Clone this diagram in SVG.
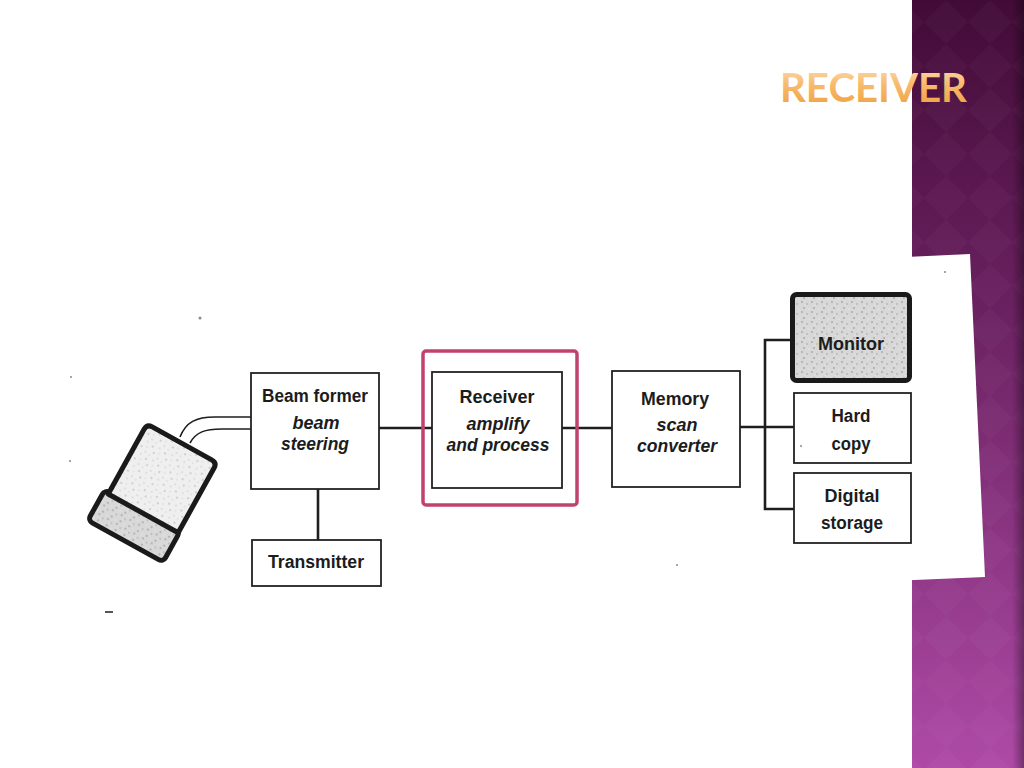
<svg xmlns="http://www.w3.org/2000/svg" width="1024" height="768" viewBox="0 0 1024 768">
<defs>
  <linearGradient id="side" x1="0" y1="0" x2="0" y2="1">
    <stop offset="0" stop-color="#420b37"/>
    <stop offset="0.4" stop-color="#6a2160"/>
    <stop offset="1" stop-color="#ae4aa6"/>
  </linearGradient>
  <linearGradient id="edge" x1="0" y1="0" x2="1" y2="0">
    <stop offset="0" stop-color="#000" stop-opacity="0"/>
    <stop offset="1" stop-color="#000" stop-opacity="0.35"/>
  </linearGradient>
  <linearGradient id="title" x1="0" y1="0" x2="0" y2="1">
    <stop offset="0" stop-color="#fde2c0"/>
    <stop offset="0.45" stop-color="#f7bb6e"/>
    <stop offset="1" stop-color="#ee9e38"/>
  </linearGradient>
  <pattern id="diam" width="44" height="44" patternUnits="userSpaceOnUse">
    <path d="M22,0 L44,22 L22,44 L0,22 Z" fill="#ffffff" fill-opacity="0.025"/>
  </pattern>
  <pattern id="stip" width="14" height="14" patternUnits="userSpaceOnUse">
    <rect width="14" height="14" fill="#efefef"/>
    <circle cx="2" cy="3" r="0.7" fill="#9a9a9a"/>
    <circle cx="9" cy="1" r="0.6" fill="#aaaaaa"/>
    <circle cx="6" cy="8" r="0.7" fill="#999999"/>
    <circle cx="12" cy="11" r="0.6" fill="#a5a5a5"/>
    <circle cx="3" cy="12" r="0.5" fill="#b0b0b0"/>
    <circle cx="11" cy="6" r="0.5" fill="#b5b5b5"/>
  </pattern>
  <pattern id="stip2" width="10" height="10" patternUnits="userSpaceOnUse">
    <rect width="10" height="10" fill="#d8d8d8"/>
    <circle cx="2" cy="2" r="0.8" fill="#8a8a8a"/>
    <circle cx="7" cy="4" r="0.7" fill="#999"/>
    <circle cx="4" cy="8" r="0.8" fill="#888"/>
    <circle cx="9" cy="9" r="0.6" fill="#f2f2f2"/>
    <circle cx="5" cy="5" r="0.6" fill="#f0f0f0"/>
  </pattern>
</defs>
<style>
  .box { fill: #ffffff; stroke: #222222; stroke-width: 1.8; }
  .wire { fill: none; stroke: #1e1e1e; stroke-width: 2.6; }
  .cable { fill: none; stroke: #1e1e1e; stroke-width: 1.6; }
  .lb { font-family: "Liberation Sans", Arial, sans-serif; font-weight: bold; font-size: 18px; fill: #1c1c1c; text-anchor: middle; }
  .li { font-family: "Liberation Sans", Arial, sans-serif; font-weight: bold; font-style: italic; font-size: 18px; fill: #1c1c1c; text-anchor: middle; }
</style>

<rect width="1024" height="768" fill="#ffffff"/>
<g id="sidebar">
  <rect x="912" y="0" width="112" height="768" fill="url(#side)"/>
  <rect x="912" y="0" width="112" height="768" fill="url(#diam)"/>
  <rect x="1012" y="0" width="12" height="768" fill="url(#edge)"/>
</g>

<text id="title" x="780" y="102" font-family="Lato, 'Open Sans', sans-serif" font-size="41" font-weight="bold" fill="url(#title)" textLength="187" lengthAdjust="spacingAndGlyphs">RECEIVER</text>

<polygon id="sheet" points="60,297 970,254 985,577 72,616" fill="#ffffff"/>

<g id="connectors">
  <path class="cable" d="M180,437 C186,422 196,417 215,417 L252,417"/>
  <path class="cable" d="M190,443 C196,432 205,429 222,429 L252,429"/>
  <line class="wire" x1="318" y1="489" x2="318" y2="540"/>
  <line class="wire" x1="379" y1="428" x2="432" y2="428"/>
  <line class="wire" x1="562" y1="428" x2="612" y2="428"/>
  <line class="wire" x1="740" y1="427" x2="794" y2="427"/>
  <polyline class="wire" points="790,340 765,340 765,509 794,509"/>
</g>

<g id="probe" transform="translate(147,424) rotate(29)">
  <rect x="-5" y="78" width="86" height="35" rx="5" fill="url(#stip2)" stroke="#1a1a1a" stroke-width="5"/>
  <path d="M6,0 L74,0 Q80,0 80,6 L80,80 L0,80 L0,6 Q0,0 6,0 Z" fill="url(#stip)" stroke="#1a1a1a" stroke-width="5" stroke-linejoin="round"/>
</g>

<g id="beamformer">
  <rect class="box" x="251" y="373" width="128" height="116"/>
  <text class="lb" x="315" y="402" textLength="106" lengthAdjust="spacingAndGlyphs">Beam former</text>
  <text class="li" x="316" y="429">beam</text>
  <text class="li" x="315" y="450" textLength="68" lengthAdjust="spacingAndGlyphs">steering</text>
</g>

<g id="transmitter">
  <rect class="box" x="252" y="540" width="129" height="46"/>
  <text class="lb" x="316" y="568" textLength="96" lengthAdjust="spacingAndGlyphs">Transmitter</text>
</g>

<g id="receiver">
  <rect x="423" y="351" width="154" height="154" rx="3" fill="none" stroke="#c2426f" stroke-width="3.5"/>
  <rect class="box" x="432" y="372" width="130" height="116"/>
  <text class="lb" x="497" y="403" textLength="75" lengthAdjust="spacingAndGlyphs">Receiver</text>
  <text class="li" x="498" y="430" textLength="63" lengthAdjust="spacingAndGlyphs">amplify</text>
  <text class="li" x="498" y="451" textLength="103" lengthAdjust="spacingAndGlyphs">and process</text>
</g>

<g id="memory">
  <rect class="box" x="612" y="371" width="128" height="116"/>
  <text class="lb" x="675" y="405" textLength="68" lengthAdjust="spacingAndGlyphs">Memory</text>
  <text class="li" x="677" y="431" textLength="41" lengthAdjust="spacingAndGlyphs">scan</text>
  <text class="li" x="677" y="452" textLength="80" lengthAdjust="spacingAndGlyphs">converter</text>
</g>

<g id="monitor">
  <rect x="792.5" y="294.5" width="117" height="86" rx="4" fill="url(#stip2)" stroke="#1a1a1a" stroke-width="5"/>
  <text class="lb" x="851" y="350" textLength="66" lengthAdjust="spacingAndGlyphs">Monitor</text>
</g>

<g id="hardcopy">
  <rect class="box" x="794" y="393" width="117" height="70"/>
  <text class="lb" x="851" y="422" textLength="39" lengthAdjust="spacingAndGlyphs">Hard</text>
  <text class="lb" x="851" y="450" textLength="39" lengthAdjust="spacingAndGlyphs">copy</text>
</g>

<g id="storage">
  <rect class="box" x="794" y="473" width="117" height="70"/>
  <text class="lb" x="852" y="502" textLength="55" lengthAdjust="spacingAndGlyphs">Digital</text>
  <text class="lb" x="852" y="529" textLength="62" lengthAdjust="spacingAndGlyphs">storage</text>
</g>

<g id="specks" fill="#888888">
  <circle cx="200" cy="318" r="1.5"/>
  <circle cx="71" cy="377" r="1"/>
  <circle cx="70" cy="461" r="1"/>
  <circle cx="677" cy="565" r="1"/>
  <circle cx="945" cy="272" r="1"/>
  <circle cx="801" cy="446" r="1"/>
  <rect x="105" y="611" width="8" height="2" fill="#555"/>
</g>
</svg>
